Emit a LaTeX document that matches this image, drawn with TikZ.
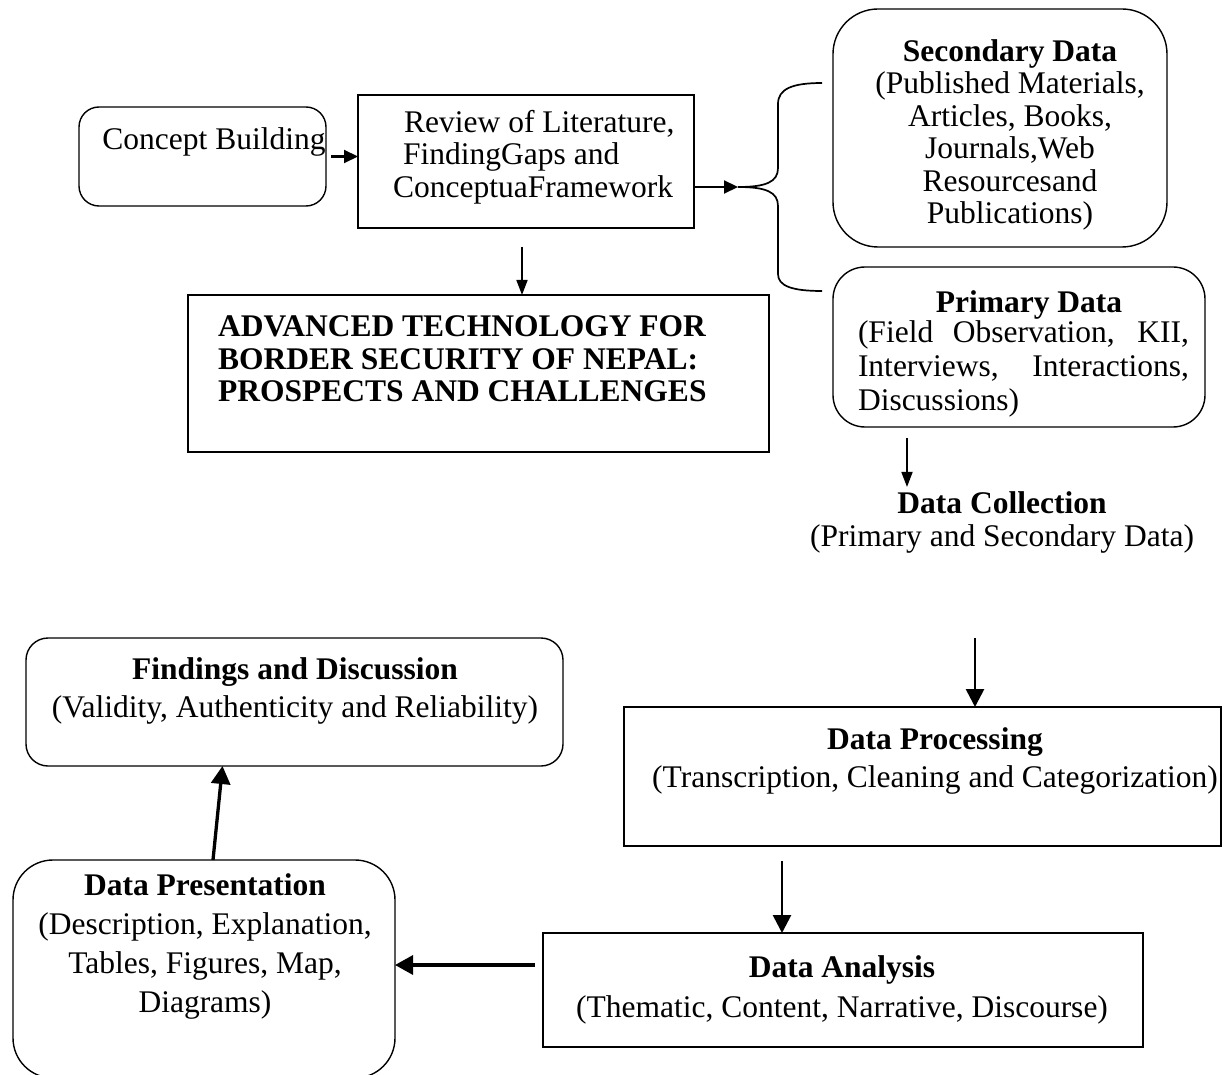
\documentclass[tikz,border=0pt]{standalone}
\usepackage{fontspec}
\setmainfont{Liberation Serif}
\usetikzlibrary{arrows.meta,fit}
\newcommand\myfs[1]{\fontsize{31.5}{#1}\selectfont}
\begin{document}
\begin{tikzpicture}[x=1pt,y=-1pt,
  box/.style={draw,line width=1.4pt,inner sep=0pt,outer sep=0pt},
  txt/.style={inner sep=0pt,align=center},
  thinarr/.style={line width=1.7pt,-{Triangle[length=15pt,width=11pt]}},
  midarr/.style={line width=2.1pt,-{Triangle[length=14pt,width=13pt]}},
  bigarr/.style={line width=2.7pt,-{Triangle[length=18pt,width=18pt]}},
  heavyarr/.style={line width=3.3pt,-{Triangle[length=18pt,width=19pt]}},
  brace/.style={line width=1.7pt}
]
\useasboundingbox (0,0) rectangle (1232,1075);

% boxes
\node[box, rounded corners=20pt, fit={(79,107) (326,206)}] (concept) {};
\node[box, fit={(358,95) (694,228)}] (review) {};
\node[box, fit={(188,295) (769,452)}] (title) {};
\node[box, rounded corners=45pt, fit={(833,9) (1167,247)}] (sec) {};
\node[box, rounded corners=32pt, fit={(833,267) (1205,427)}] (prim) {};
\node[box, fit={(624,707) (1221,846)}] (proc) {};
\node[box, fit={(543,933) (1143,1047)}] (anal) {};
\node[box, rounded corners=22pt, fit={(26,638) (563,766)}] (find) {};
\node[box, rounded corners=40pt, fit={(13,860) (395,1078)}] (pres) {};

% texts
\node[txt, font={\myfs{32}}] (tconcept) at (214,142) {Concept Building};
\node[txt, anchor=west, align=left, font={\myfs{32.5}}] (treview) at (393,157)
  {\hspace*{11pt}Review of Literature,\\\hspace*{10pt}FindingGaps and\\ConceptuaFramework};
\node[txt, anchor=west, align=left, font={\bfseries\myfs{32.5}}] (ttitle) at (218,359)
  {ADVANCED TECHNOLOGY FOR\\BORDER SECURITY OF NEPAL:\\PROSPECTS AND CHALLENGES};
\node[txt, font={\myfs{32.5}}] (tsec) at (1010,135)
  {\textbf{Secondary Data}\\(Published Materials,\\Articles, Books,\\Journals,Web\\Resourcesand\\Publications)};
\node[txt, font={\bfseries\myfs{32}}] (tprimh) at (1029,305) {Primary Data};
\node[txt, text width=331pt, align=justify, font={\myfs{34}}] (tprimb) at (1023.5,369)
  {(Field Observation, KII,\linebreak Interviews, Interactions,\linebreak Discussions)};
\node[txt, font={\myfs{33}}] (tdc) at (1002,522)
  {\textbf{Data Collection}\\(Primary and Secondary Data)};
\node[txt, font={\myfs{38}}] (tproc) at (935,761)
  {\textbf{Data Processing}\\(Transcription, Cleaning and Categorization)};
\node[txt, font={\myfs{40}}] (tanal) at (842,990)
  {\textbf{Data Analysis}\\(Thematic, Content, Narrative, Discourse)};
\node[txt, font={\myfs{38}}] (tfind) at (295,691)
  {\textbf{Findings and Discussion}\\(Validity, Authenticity and Reliability)};
\node[txt, font={\myfs{39}}] (tpres) at (205,946)
  {\textbf{Data Presentation}\\(Description, Explanation,\\Tables, Figures, Map,\\Diagrams)};

% connectors
\draw[midarr] ([xshift=5pt]concept.east) -- (concept.east -| review.west);

\coordinate (btip) at (738,187);
\coordinate (btop) at (822,83);
\coordinate (bbot) at (822,291);
\draw[midarr] (btip -| review.east) -- (btip);
\draw[brace] (btop) .. controls (792,83) and (778,89) .. (778,104) -- (778,168)
  .. controls (778,182) and (766,187) .. (btip)
  .. controls (766,187) and (778,192) .. (778,206) -- (778,274)
  .. controls (778,286) and (792,291) .. (bbot);

\coordinate (a1) at (522,247);
\draw[thinarr] (a1) -- (a1 |- title.north);

\coordinate (a2) at (907,438);
\draw[thinarr] (a2) -- ([yshift=4pt]a2 |- tdc.north);

\coordinate (a3) at (975,638);
\draw[bigarr] (a3) -- (a3 |- proc.north);

\coordinate (a4) at (782,861);
\draw[bigarr] (a4) -- (a4 |- anal.north);

\coordinate (a5) at (535,965);
\draw[heavyarr] (a5) -- (a5 -| pres.east);

\draw[heavyarr] ([xshift=9pt]pres.north) -- ([xshift=-72pt]find.south);
\end{tikzpicture}
\end{document}
